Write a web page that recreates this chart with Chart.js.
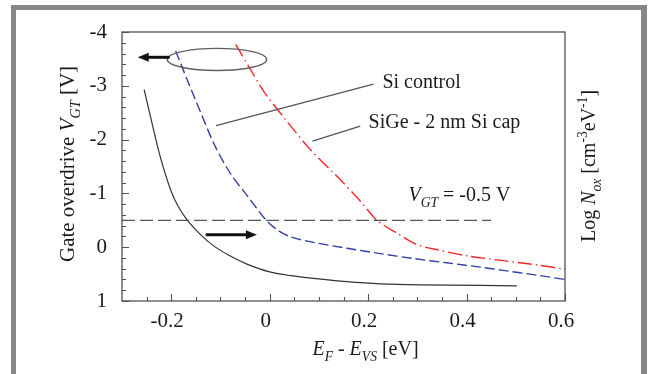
<!DOCTYPE html>
<html>
<head>
<meta charset="utf-8">
<script src="https://cdn.jsdelivr.net/npm/chart.js@4"></script>
<style>
  html, body { margin: 0; padding: 0; background: #fff; }
</style>
</head>
<body>
<canvas id="chart" width="654" height="374"></canvas>
<script>
// tick labels
const xTicks = [-0.2, 0, 0.2, 0.4, 0.6];
const yTicks = [-4, -3, -2, -1, 0, 1];

// Si control (blue dashed)
const siControlX = [-0.191, -0.167, -0.140, -0.110, -0.079, -0.045, -0.008, 0.016, 0.043, 0.089, 0.157, 0.225, 0.292, 0.360, 0.428, 0.474, 0.543, 0.6];
const siControlY = [-3.65, -3.10, -2.50, -1.86, -1.36, -0.95, -0.51, -0.32, -0.19, -0.09, 0.02, 0.12, 0.21, 0.29, 0.37, 0.43, 0.52, 0.60];

// SiGe - 2 nm Si cap (red dash-dot)
const siGeCapX = [-0.069, -0.040, -0.010, 0.036, 0.083, 0.144, 0.184, 0.218, 0.259, 0.299, 0.347, 0.401, 0.474, 0.543, 0.6];
const siGeCapY = [-3.77, -3.32, -2.87, -2.33, -1.81, -1.25, -0.86, -0.50, -0.26, -0.05, 0.06, 0.16, 0.25, 0.33, 0.41];

// Log Nox (black solid, right-hand quantity)
const noxX = [-0.255, -0.245, -0.235, -0.226, -0.215, -0.201, -0.186, -0.167, -0.140, -0.113, -0.079, -0.045, 0.0, 0.043, 0.089, 0.157, 0.225, 0.306, 0.428, 0.502];
const noxY = [-2.93, -2.54, -2.15, -1.81, -1.45, -1.06, -0.76, -0.50, -0.23, -0.02, 0.17, 0.32, 0.46, 0.53, 0.58, 0.64, 0.68, 0.70, 0.71, 0.72];

// V_GT = -0.5 V reference line
const vgtX = [-0.3, 0.45];
const vgtY = [-0.5, -0.5];

const pts = (xs, ys) => xs.map((x, i) => ({ x: x, y: ys[i] }));
const SERIF = '"Liberation Serif", "Times New Roman", serif';

function drawRich(ctx, parts, x, y, size, align) {
  const fontFor = p => (p.i ? 'italic ' : '') + (p.s ? size * 0.68 : size) + 'px ' + SERIF;
  let total = 0;
  parts.forEach(p => { ctx.font = fontFor(p); p.w = ctx.measureText(p.t).width; total += p.w; });
  let cx = align === 'center' ? x - total / 2 : x;
  ctx.textAlign = 'left';
  ctx.textBaseline = 'alphabetic';
  parts.forEach(p => {
    ctx.font = fontFor(p);
    const dy = p.s === 'sub' ? size * 0.28 : (p.s === 'sup' ? -size * 0.42 : 0);
    ctx.fillText(p.t, cx, y + dy);
    cx += p.w;
  });
}

function arrow(ctx, x1, y1, x2, y2) {
  const a = Math.atan2(y2 - y1, x2 - x1);
  ctx.beginPath();
  ctx.moveTo(x1, y1);
  ctx.lineTo(x2 - 8 * Math.cos(a), y2 - 8 * Math.sin(a));
  ctx.lineWidth = 3;
  ctx.stroke();
  ctx.beginPath();
  ctx.moveTo(x2, y2);
  ctx.lineTo(x2 - 11 * Math.cos(a) + 4.5 * Math.sin(a), y2 - 11 * Math.sin(a) - 4.5 * Math.cos(a));
  ctx.lineTo(x2 - 11 * Math.cos(a) - 4.5 * Math.sin(a), y2 - 11 * Math.sin(a) + 4.5 * Math.cos(a));
  ctx.closePath();
  ctx.fill();
}

const framePlugin = {
  id: 'frame',
  beforeDraw(chart) {
    const ctx = chart.ctx;
    ctx.save();
    ctx.fillStyle = '#fff';
    ctx.fillRect(0, 0, chart.width, chart.height);
    ctx.fillStyle = '#878787';
    ctx.fillRect(11, 5, 636, 5);
    ctx.fillRect(11, 5, 5, 369);
    ctx.fillRect(641, 5, 6, 369);
    ctx.restore();
  },
  afterDraw(chart) {
    const ctx = chart.ctx;
    const a = chart.chartArea;
    const xs = chart.scales.x, ys = chart.scales.y;
    const X = v => xs.getPixelForValue(v), Y = v => ys.getPixelForValue(v);
    ctx.save();

    // box
    ctx.strokeStyle = '#505050';
    ctx.lineWidth = 1.3;
    ctx.strokeRect(a.left, a.top, a.right - a.left, a.bottom - a.top);

    // inward ticks
    ctx.beginPath();
    for (let k = 0; k <= 25; k++) {
      const v = -4 + k * 0.2;
      const len = k % 5 === 0 ? 7 : 4;
      const py = Math.round(Y(v)) + 0.5;
      ctx.moveTo(a.left, py); ctx.lineTo(a.left + len, py);
    }
    for (let k = -5; k <= 12; k++) {
      const v = k * 0.05;
      const len = (k % 4 === 0) ? 7 : 4;
      const px = Math.round(X(v)) + 0.5;
      ctx.moveTo(px, a.bottom); ctx.lineTo(px, a.bottom - len);
    }
    ctx.lineWidth = 1.1;
    ctx.stroke();

    // ellipse and arrows
    ctx.strokeStyle = '#606060';
    ctx.lineWidth = 1.4;
    ctx.beginPath();
    ctx.ellipse(X(-0.107), Y(-3.49), X(-0.006) - X(-0.107), Y(-3.285) - Y(-3.49), 0, 0, Math.PI * 2);
    ctx.stroke();
    ctx.strokeStyle = '#111';
    ctx.fillStyle = '#111';
    arrow(ctx, X(-0.203), Y(-3.53), X(-0.268), Y(-3.53));
    arrow(ctx, X(-0.130), Y(-0.23), X(-0.026), Y(-0.23));

    // leader lines
    ctx.strokeStyle = '#555';
    ctx.lineWidth = 1.3;
    ctx.beginPath();
    ctx.moveTo(X(-0.109), Y(-2.26)); ctx.lineTo(X(0.211), Y(-3.03));
    ctx.moveTo(X(0.087), Y(-1.97)); ctx.lineTo(X(0.184), Y(-2.25));
    ctx.stroke();

    // annotations
    ctx.fillStyle = '#1a1a1a';
    drawRich(ctx, [{ t: 'Si control' }], X(0.229), Y(-2.95), 20, 'left');
    drawRich(ctx, [{ t: 'SiGe - 2 nm Si cap' }], X(0.201), Y(-2.22), 20, 'left');
    drawRich(ctx, [{ t: 'V', i: true }, { t: 'GT', i: true, s: 'sub' }, { t: ' = -0.5 V' }], X(0.282), Y(-0.85), 20, 'left');

    // axis titles
    drawRich(ctx, [{ t: 'E', i: true }, { t: 'F', i: true, s: 'sub' }, { t: ' - ' }, { t: 'E', i: true }, { t: 'VS', i: true, s: 'sub' }, { t: ' [eV]' }],
      (a.left + a.right) / 2 + 22, 355, 20, 'center');

    ctx.save();
    ctx.translate(74, 164);
    ctx.rotate(-Math.PI / 2);
    drawRich(ctx, [{ t: 'Gate overdrive ' }, { t: 'V', i: true }, { t: 'GT', i: true, s: 'sub' }, { t: ' [V]' }], 0, 0, 21, 'center');
    ctx.restore();

    ctx.save();
    ctx.translate(595, 166);
    ctx.rotate(-Math.PI / 2);
    drawRich(ctx, [{ t: 'Log ' }, { t: 'N', i: true }, { t: 'ox', i: true, s: 'sub' }, { t: ' [cm' }, { t: '-3', s: 'sup' }, { t: 'eV' }, { t: '-1', s: 'sup' }, { t: ']' }], 0, 0, 20, 'center');
    ctx.restore();

    ctx.restore();
  }
};

new Chart(document.getElementById('chart'), {
  type: 'scatter',
  data: {
    datasets: [{
      label: 'V_GT = -0.5 V',
      data: pts(vgtX, vgtY),
      showLine: true,
      borderColor: '#555',
      borderWidth: 1.3,
      borderDash: [13, 5],
      pointRadius: 0
    }, {
      label: 'Log Nox',
      data: pts(noxX, noxY),
      showLine: true,
      borderColor: '#333',
      borderWidth: 1.2,
      tension: 0.3,
      pointRadius: 0
    }, {
      label: 'Si control',
      data: pts(siControlX, siControlY),
      showLine: true,
      borderColor: '#3340a8',
      borderWidth: 1.4,
      borderDash: [10, 4],
      tension: 0.3,
      pointRadius: 0
    }, {
      label: 'SiGe - 2 nm Si cap',
      data: pts(siGeCapX, siGeCapY),
      showLine: true,
      borderColor: '#f02828',
      borderWidth: 1.4,
      borderDash: [14, 4, 1.5, 4],
      tension: 0.3,
      pointRadius: 0
    }]
  },
  options: {
    responsive: false,
    animation: false,
    layout: { padding: { top: 32, right: 89, left: 0, bottom: 0 } },
    plugins: {
      legend: { display: false },
      tooltip: { enabled: false }
    },
    scales: {
      x: {
        type: 'linear',
        min: -0.3,
        max: 0.6,
        afterBuildTicks: s => { s.ticks = xTicks.map(v => ({ value: v })); },
        afterFit: s => { s.height = 73; },
        grid: { display: false, drawTicks: false },
        border: { display: false },
        ticks: {
          padding: 8,
          labelOffset: -4,
          color: '#1a1a1a',
          font: { family: SERIF, size: 21 },
          callback: v => String(v)
        }
      },
      y: {
        type: 'linear',
        min: -4,
        max: 1,
        reverse: true,
        afterBuildTicks: s => { s.ticks = yTicks.map(v => ({ value: v })); },
        afterFit: s => { s.width = 122; },
        grid: { display: false, drawTicks: false },
        border: { display: false },
        ticks: {
          padding: 15,
          color: '#1a1a1a',
          font: { family: SERIF, size: 21 },
          callback: v => String(v)
        }
      }
    }
  },
  plugins: [framePlugin]
});
</script>
</body>
</html>
